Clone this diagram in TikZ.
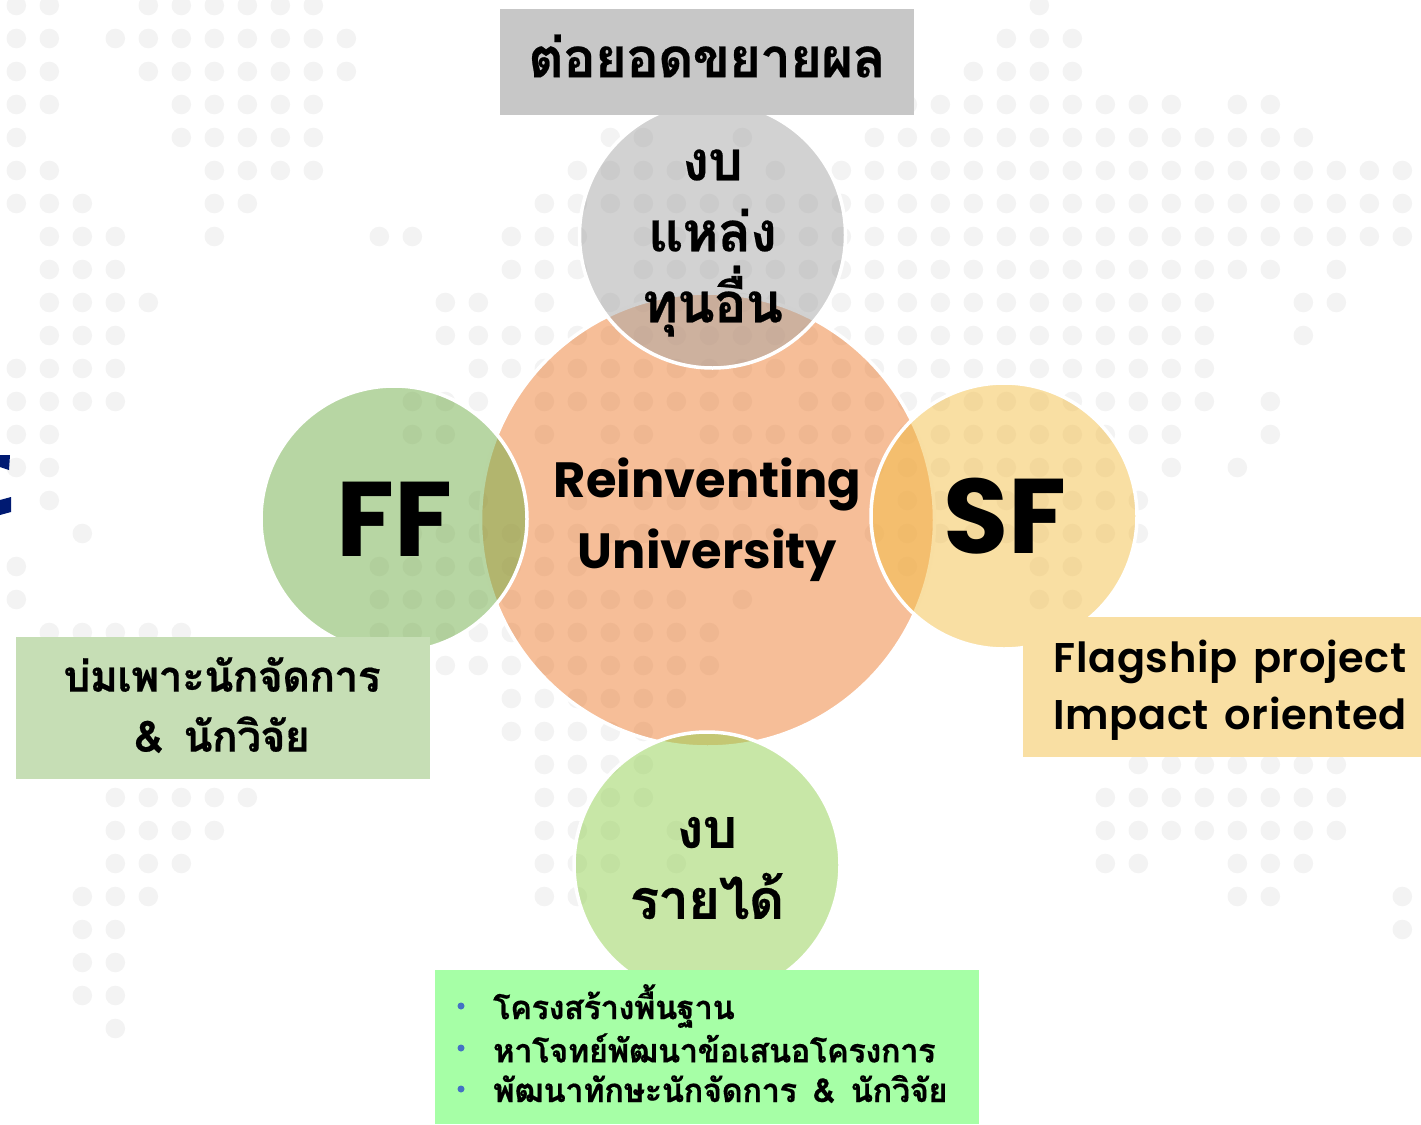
\documentclass[tikz,border=0pt]{standalone}
\usepackage{fontspec}
\setmainfont{Poppins}
\newfontfamily\thaifont[Script=Thai,LetterSpace=-2,WordSpace=1.5,BoldFeatures={FakeBold=0.4}]{Loma}
\newfontfamily\boxfont[LetterSpace=1.5,WordSpace=1.5]{Poppins SemiBold}
\usetikzlibrary{positioning}
\definecolor{dotgrey}{HTML}{F3F3F3}
\definecolor{mainorange}{HTML}{ED7D31}
\definecolor{ffgreen}{HTML}{70AD47}
\definecolor{sfyellow}{HTML}{F3BF47}
\definecolor{topgrey}{HTML}{A5A5A5}
\definecolor{incgreen}{HTML}{92D050}
\definecolor{navyc}{HTML}{001A72}
\definecolor{bulletblue}{HTML}{4472C4}
\tikzset{
    disc/.style = {draw=white, circle, line width=3.5pt, fill opacity=.5,
        inner sep=0pt, outer sep=0pt, minimum size=266pt},
    infobox/.style = {rectangle, inner sep=0pt, outer sep=0pt},
    caption/.style = {inner sep=0pt, outer sep=0pt, align=center},
    thaibig/.style = {font=\thaifont\bfseries\fontsize{55}{71}\selectfont},
    thaimid/.style = {font=\thaifont\bfseries\fontsize{43}{60}\selectfont},
    thaismall/.style = {font=\thaifont\bfseries\fontsize{33}{41}\selectfont},
    latinbig/.style = {font=\bfseries\fontsize{106}{106}\selectfont},
    latinmid/.style = {font=\bfseries\fontsize{49.5}{71}\selectfont},
    latinbox/.style = {font=\boxfont\fontsize{41.5}{57}\selectfont}
}
\begin{document}
\begin{tikzpicture}[x=1pt,y=-1pt]
    \useasboundingbox (0,0) rectangle (1421,1124);
    % dotted map, one row of columns at a time
    \foreach \r/\cols in {
        0/{0,1,4,5,...,9,31},
        1/{0,1,3,4,...,10,30,31,32},
        2/{0,1,4,5,...,10,29,30,31,32},
        3/{0,1,5,6,...,9,27,28,...,35,37,38},
        4/{0,5,6,...,9,18,19,22,26,27,...,39},
        5/{0,1,6,7,8,9,17,18,19,20,23,25,26,...,42},
        6/{0,1,2,6,7,16,17,...,42},
        7/{1,2,3,6,11,12,15,16,17,19,20,...,42},
        8/{1,2,3,15,16,17,19,20,...,38,40},
        9/{1,2,3,4,13,14,16,18,19,...,36,39,40},
        10/{1,2,3,13,14,...,36,39},
        11/{0,1,2,3,14,15,...,36},
        12/{0,1,2,3,12,13,14,16,17,...,22,24,25,...,36,38},
        13/{0,1,12,13,16,18,19,21,22,...,35,38},
        14/{0,1,18,20,21,...,33,35,37},
        15/{1,14,17,19,20,21,22,24,27,28,...,34},
        16/{2,12,13,...,24,26,27,...,34},
        17/{0,11,12,...,17,27,31,32},
        18/{0,11,12,...,20,22,31,32},
        19/{1,2,...,5,11,12,...,21},
        20/{13,14,...,21},
        21/{15,16,...,20},
        22/{15,16,...,19},
        23/{16,17,18,19,34,35,...,40},
        24/{3,4,...,7,16,17,18,19,33,34,...,40},
        25/{3,4,5,6,16,17,18,20,33,34,...,40},
        26/{3,4,5,16,17,18,20,33,34,37,38,39},
        27/{2,3,4,16,17,37,38,42},
        28/{2,3,42},
        29/{2,3},
        30/{2,3},
        31/{3}}{
        \foreach \c in \cols {
            \fill[dotgrey] ({16.3+33*\c},{5.5+33*\r}) circle (9.8);
        }
    }
    % piece of a letter at the left edge
    \fill[navyc] (0,455) -- (10,455) -- (9,470) -- (0,467) -- cycle;
    \fill[navyc] (0,500) -- (11,497) -- (11,512) -- (0,515) -- cycle;

    \node[disc, minimum size=454pt, fill=mainorange] (reinvent) at (707.5,520) {};
    \node[disc, fill=topgrey] (othergrant) at (712.5,235) {};
    \node[disc, fill=ffgreen] (ff) at (394,519) {};
    \node[disc, fill=sfyellow] (sf) at (1004,516) {};
    \node[disc, fill=incgreen] (income) at (707,865) {};

    \node[infobox, fill=black!22, minimum width=414pt, minimum height=106pt] (extend) at (707,62) {};
    \node[infobox, fill=ffgreen!40!white, minimum width=414pt, minimum height=142pt] (nurture) at (223,708) {};
    \node[infobox, fill=sfyellow!50!white, minimum width=398pt, minimum height=140pt] (flagship) at (1222,687) {};
    \node[infobox, fill=green!35!white, minimum width=544pt, minimum height=154pt] (support) at (707,1047) {};

    \node[caption, latinmid] (reinventtxt) at (707.5,520) {Reinventing\\University};
    \node[caption, thaibig] (othergranttxt) at (712.5,243) {งบ\\แหล่ง\\ทุนอื่น};
    \node[caption, latinbig] (fftxt) at (394,519) {FF};
    \node[caption, latinbig] (sftxt) at (1005,516) {SF};
    \node[caption, thaibig] (incometxt) at (707,868) {งบ\\รายได้};
    \node[caption, thaibig] (extendtxt) at (707,56) {ต่อยอดขยายผล};
    \node[caption, thaimid] (nurturetxt) at (222,705) {บ่มเพาะนักจัดการ\\\& นักวิจัย};
    \node[caption, latinbox] (flagshiptxt) at (1230,690) {Flagship project\\Impact oriented};

    \foreach \i/\ypos/\txt in {1/1006/โครงสร้างพื้นฐาน,
                               2/1048/หาโจทย์พัฒนาข้อเสนอโครงการ,
                               3/1089/พัฒนาทักษะนักจัดการ \& นักวิจัย}{
        \node[circle, fill=bulletblue, inner sep=0pt, minimum size=7pt] (bullet\i) at (461,\ypos) {};
        \node[caption, thaismall, anchor=west] (item\i) at (493,\ypos) {\txt};
    }
\end{tikzpicture}
\end{document}
